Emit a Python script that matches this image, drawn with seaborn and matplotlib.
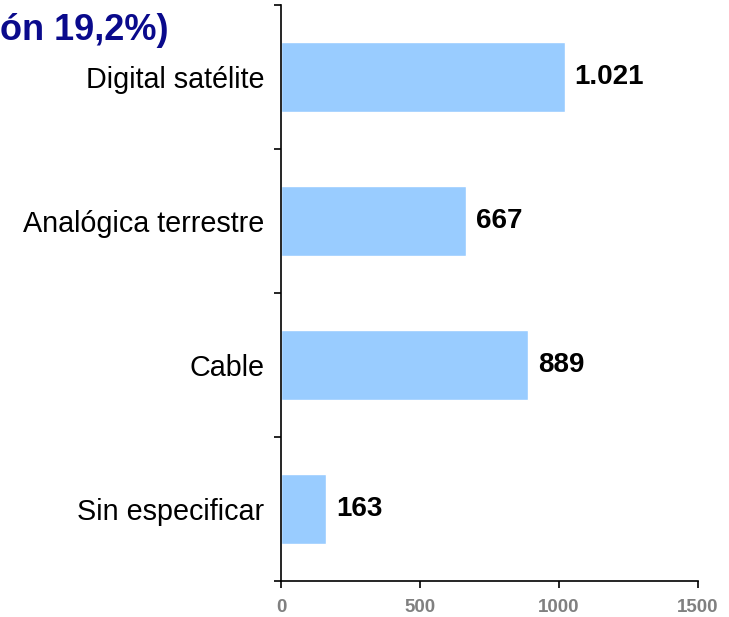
import matplotlib
matplotlib.use("Agg")
import matplotlib.pyplot as plt
from matplotlib.ticker import FixedLocator
import seaborn as sns

# data
categories = ["Digital satélite", "Analógica terrestre", "Cable", "Sin especificar"]
values = [1021, 667, 889, 163]
x_ticks = [0, 500, 1000, 1500]
title_text = "ón 19,2%)"

sns.set_style("white")
plt.rcParams["font.family"] = ["Liberation Sans", "DejaVu Sans"]

fig = plt.figure(figsize=(7.29, 6.17), dpi=100)
ax = fig.add_axes([281 / 729, 1 - 581 / 617, 417 / 729, 576 / 617])

sns.barplot(x=values, y=categories, orient="h", color="#99CCFF",
            saturation=1, width=0.49, ax=ax)

# value labels to the right of each bar
for i, v in enumerate(values):
    label = f"{v:,}".replace(",", ".")
    ax.annotate(label, xy=(v, i), xytext=(7, 0), textcoords="offset points",
                ha="left", va="center", fontsize=20, fontweight="bold", color="black")

ax.set_xlim(0, 1500)
ax.set_ylim(3.5, -0.5)
ax.set_xticks(x_ticks)
ax.set_xticklabels([str(t) for t in x_ticks], fontsize=13.5, fontweight="bold", color="#808080")
ax.tick_params(axis="x", bottom=True, direction="out", length=5, width=1.2,
               color="black", pad=8)

# category labels centred, ticks between categories
ax.tick_params(axis="y", which="major", left=True, length=0, pad=12,
               labelsize=20.7, labelcolor="black")
ax.yaxis.set_minor_locator(FixedLocator([-0.5, 0.5, 1.5, 2.5, 3.5]))
ax.tick_params(axis="y", which="minor", left=True, direction="out", length=5,
               width=1.2, color="black")
ax.set_xlabel("")
ax.set_ylabel("")

sns.despine(ax=ax, top=True, right=True)
for s in ["left", "bottom"]:
    ax.spines[s].set_color("black")
    ax.spines[s].set_linewidth(1.2)

fig.text(0.0, 1 - 30 / 617, title_text, ha="left", va="center",
         fontsize=26, fontweight="bold", color="#0A0A8C")

fig.savefig("out.png", dpi=100)
